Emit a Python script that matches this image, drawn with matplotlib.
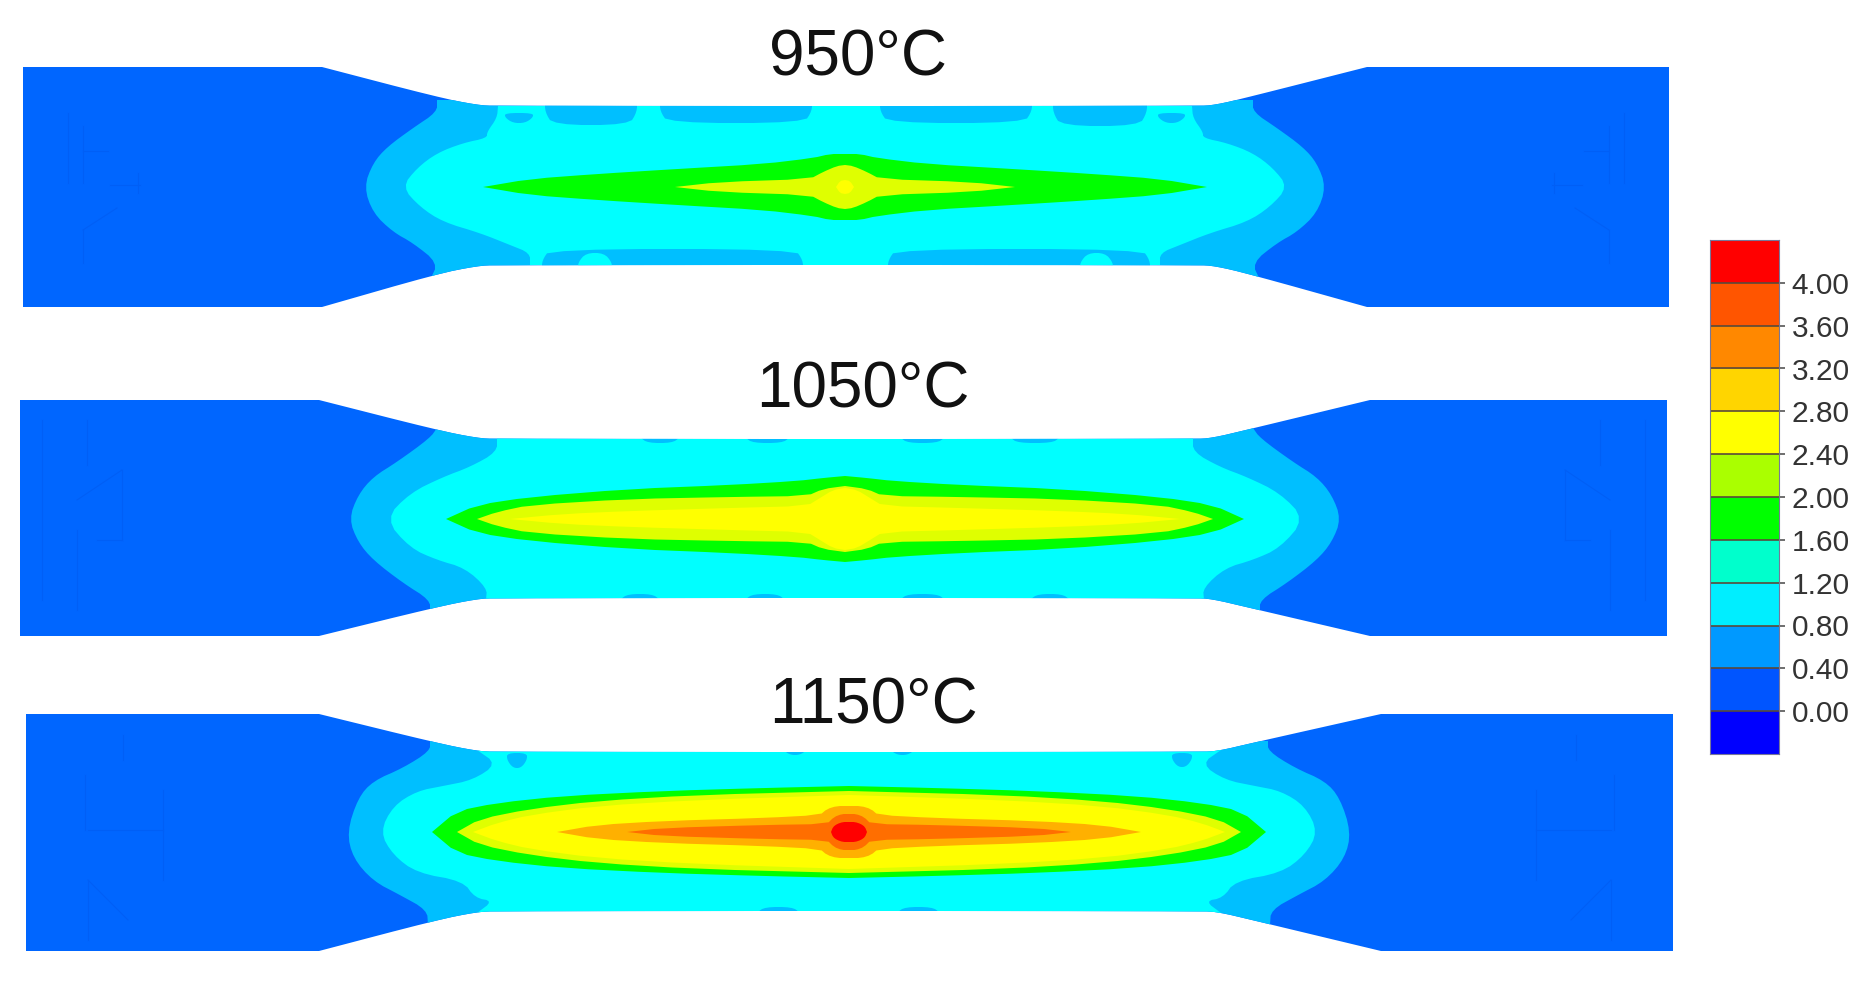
import numpy as np
import matplotlib
matplotlib.use("Agg")
import matplotlib.pyplot as plt
from matplotlib.patches import Polygon

plt.rcParams['font.family'] = ['Liberation Sans', 'DejaVu Sans']

# ---------- legend ----------
LEVELS = [0.0, 0.4, 0.8, 1.2, 1.6, 2.0, 2.4, 2.8, 3.2, 3.6, 4.0]
LEVEL_LABELS = ['0.00', '0.40', '0.80', '1.20', '1.60', '2.00', '2.40', '2.80', '3.20', '3.60', '4.00']
LEGEND_COLORS = ['#0000FF', '#0055FF', '#0099FF', '#00EEFF', '#00FFCC', '#00FF00',
                 '#AAFF00', '#FFFF00', '#FFD500', '#FF8800', '#FF5500', '#FF0000']

# ---------- field colours seen on the specimens ----------
C_GRIP, C_BAND, C_CYAN = '#0066FF', '#00BFFF', '#00FFFF'
C_GREEN, C_YG, C_YEL, C_GOLD, C_ORG, C_RED = '#00FF00', '#DFFF00', '#FFFF00', '#FFB000', '#FF6E00', '#FF0000'

# ---------- specimen 950 ----------
S950_TITLE = '950°C'
S950_FRAME = dict(L=23, R=1669, T=67, B=307, GL=322, GR=1367, SL=497, SR=1197, GT=106, GB=265, CX=845, MY=187)
S950_BAND_DX = [408, 408, 432, 458, 472, 481, 472, 452, 432, 407, 415]
S950_BAND_DY = [-87, -75, -59, -40, -24, 0, 26, 45, 56, 76, 93]
S950_CYAN_DX = [347, 348, 358, 358, 382, 408, 428, 443, 425, 402, 365, 335, 315, 315]
S950_CYAN_DY = [-81, -69, -55, -49, -44, -34, -19, 0, 20, 35, 46, 58, 66, 78]
S950_TOP_PATCH = [(505, 533, 7, 16), (545, 637, 0, 18), (660, 812, 0, 16), (880, 1032, 0, 16), (1053, 1147, 0, 19), (1158, 1185, 7, 16)]
S950_BOT_PATCH = [(542, 803, 0, 15), (888, 1150, 0, 15)]
S950_BOT_GAPS = [(578, 612, 0, 11), (1080, 1113, 0, 11)]
S950_PROFILES = [
    (C_GREEN, [362, 315, 248, 168, 82, 32, 15, 0], [0, 8, 13, 18, 23, 29, 33, 33]),
    (C_YG, [170, 125, 35, 22, 8, 0], [0, 5, 8, 15, 21, 22]),
    (C_YEL, [9, 5, 0], [0, 6, 7]),
]
S950_LINES = [((83, 126), (83, 183)), ((83, 151), (108, 151)), ((110, 185), (140, 185)), ((138, 173), (138, 193)),
              ((83, 230), (83, 263)), ((83, 230), (117, 208)), ((68, 113), (68, 183))]

# ---------- specimen 1050 ----------
S1050_TITLE = '1050°C'
S1050_FRAME = dict(L=20, R=1667, T=400, B=636, GL=319, GR=1370, SL=497, SR=1194, GT=439, GB=598, CX=845, MY=519)
S1050_BAND_DX = [408, 415, 448, 472, 487, 496, 487, 472, 442, 415, 415]
S1050_BAND_DY = [-91, -81, -57, -42, -24, 0, 23, 41, 64, 81, 93]
S1050_CYAN_DX = [348, 348, 375, 402, 435, 460, 435, 408, 380, 358, 359]
S1050_CYAN_DY = [-82, -67, -52, -42, -26, 0, 29, 41, 49, 69, 81]
S1050_TOP_PATCH = [(640, 680, 0, 3), (745, 790, 0, 3), (900, 945, 0, 3), (1010, 1060, 0, 3)]
S1050_BOT_PATCH = [(620, 660, 0, 3), (745, 785, 0, 3), (900, 945, 0, 3), (1030, 1070, 0, 3)]
S1050_BOT_GAPS = []
S1050_PROFILES = [
    (C_GREEN, [399, 368, 315, 215, 115, 48, 22, 0], [0, 14, 22, 30, 34, 38, 41, 43]),
    (C_YG, [368, 348, 315, 215, 115, 38, 22, 0], [0, 7, 14, 20, 22, 23, 30, 33]),
    (C_YEL, [335, 282, 215, 115, 38, 25, 12, 0], [0, 5, 8, 11, 13, 21, 29, 31]),
]
S1050_LINES = [((125, 470), (125, 540)), ((80, 500), (125, 470)), ((80, 530), (80, 610)), ((45, 420), (45, 600)),
               ((90, 420), (90, 465)), ((100, 540), (125, 540))]

# ---------- specimen 1150 ----------
S1150_TITLE = '1150°C'
S1150_FRAME = dict(L=26, R=1673, T=714, B=951, GL=319, GR=1381, SL=497, SR=1200, GT=752, GB=911, CX=849, MY=832)
S1150_BAND_DX = [419, 419, 446, 476, 491, 502, 496, 476, 449, 422, 421]
S1150_BAND_DY = [-91, -81, -64, -51, -34, 0, 26, 49, 63, 78, 93]
S1150_CYAN_DX = [372, 352, 376, 406, 432, 456, 469, 456, 432, 386, 374, 356, 372]
S1150_CYAN_DY = [-82, -68, -52, -46, -41, -26, 0, 23, 41, 49, 66, 69, 81]
S1150_TOP_PATCH = [(507, 527, 1, 15), (1172, 1192, 1, 14), (783, 807, 0, 2), (890, 915, 0, 2)]
S1150_BOT_PATCH = [(757, 800, 0, 3), (897, 940, 0, 3)]
S1150_BOT_GAPS = []
S1150_PROFILES = [
    (C_GREEN, [417, 392, 352, 286, 186, 86, 0], [0, 21, 29, 36, 41, 44, 46]),
    (C_YG, [392, 369, 319, 252, 152, 0], [0, 13, 23, 31, 37, 41]),
    (C_YEL, [376, 352, 319, 252, 152, 0], [0, 9, 17, 26, 32, 37]),
    (C_GOLD, [292, 252, 186, 86, 29, 22, 12, 0], [0, 7, 11, 14, 17, 23, 26, 26]),
    (C_ORG, [222, 186, 86, 22, 15, 7, 0], [0, 4, 7, 8, 15, 18, 18]),
    (C_RED, [18, 16, 12, 6, 0], [0, 5, 8, 10, 10]),
]
S1150_LINES = [((82, 775), (82, 830)), ((85, 830), (160, 830)), ((160, 790), (160, 880)), ((85, 880), (85, 940)),
               ((120, 735), (120, 760)), ((85, 880), (125, 920))]


def chaikin(pts, n=2, closed=False):
    p = np.asarray(pts, float)
    for _ in range(n):
        if closed:
            a, b = p, np.roll(p, -1, axis=0)
            p = np.column_stack([0.75 * a + 0.25 * b, 0.25 * a + 0.75 * b]).reshape(-1, 2)
        else:
            a, b = p[:-1], p[1:]
            mid = np.column_stack([0.75 * a + 0.25 * b, 0.25 * a + 0.75 * b]).reshape(-1, 2)
            p = np.vstack([p[0], mid, p[-1]])
    return p


def draw_specimen(ax, F, band_dx, band_dy, cyan_dx, cyan_dy, top_p, bot_p, gaps, profiles, lines):
    cx, my = F['CX'], F['MY']
    # the shoulder bends softly into the gauge; short extra segments keep the gauge edge straight
    top = chaikin([(F['GL'], F['T']), (F['SL'] - 60, F['GT'] - 9), (F['SL'] - 20, F['GT'] - 1), (F['SL'], F['GT']),
                   (F['SR'], F['GT']), (F['SR'] + 18, F['GT'] - 1), (F['SR'] + 52, F['GT'] - 9), (F['GR'], F['T'])], 2)
    bot = chaikin([(F['GR'], F['B']), (F['SR'] + 52, F['GB'] + 9), (F['SR'] + 18, F['GB'] + 1), (F['SR'], F['GB']),
                   (F['SL'], F['GB']), (F['SL'] - 20, F['GB'] + 1), (F['SL'] - 60, F['GB'] + 9), (F['GL'], F['B'])], 2)
    outline = np.vstack([[(F['L'], F['T'])], top, [(F['R'], F['T']), (F['R'], F['B'])], bot, [(F['L'], F['B'])]])
    body = Polygon(outline, closed=True, fc=C_GRIP, ec='none', zorder=1)
    ax.add_patch(body)

    def clip(p):
        ax.add_patch(p)
        p.set_clip_path(body)

    z = 2
    for dx, dy, col in [(band_dx, band_dy, C_BAND), (cyan_dx, cyan_dy, C_CYAN)]:
        edge = chaikin(np.column_stack([dx, dy]), 2)
        left = np.column_stack([cx - edge[:, 0], my + edge[:, 1]])
        right = np.column_stack([cx + edge[:, 0], my + edge[:, 1]])[::-1]
        clip(Polygon(np.vstack([left, right]), closed=True, fc=col, ec='none', zorder=z))
        z += 1
    for patches, base, sign, col in [(top_p, F['GT'], 1, C_BAND), (bot_p, F['GB'], -1, C_BAND), (gaps, F['GB'], -1, C_CYAN)]:
        for x0, x1, d0, d1 in patches:
            r = min(8, (x1 - x0) * 0.3)
            # patches that touch the edge start a little outside it and get clipped there
            start = -6 if d0 == 0 else d0
            pts = [(x0, base + sign * start), (x0, base + sign * (start + d1) / 2), (x0 + r, base + sign * (d1 + 1)),
                   (x1 - r, base + sign * (d1 + 1)), (x1, base + sign * (start + d1) / 2), (x1, base + sign * start)]
            clip(Polygon(chaikin(pts, 2, closed=True), closed=True, fc=col, ec='none', zorder=z))
        z += 1
    for col, dx, h in profiles:
        dx, h = np.array(dx, float), np.array(h, float)
        q = np.vstack([
            np.column_stack([cx - dx, my - h]),
            np.column_stack([cx + dx[::-1], my - h[::-1]]),
            np.column_stack([cx + dx, my + h]),
            np.column_stack([cx - dx[::-1], my + h[::-1]]),
        ])
        clip(Polygon(chaikin(q, 1, closed=True), closed=True, fc=col, ec='none', zorder=z))
        z += 1
    # faint mesh traces inside the grips, both ends
    for (x0, y0), (x1, y1) in lines:
        ax.plot([F['L'] - 23 + x0, F['L'] - 23 + x1], [y0, y1], color='#005FF6', lw=0.8, zorder=z)
        ax.plot([F['R'] + 23 - x0, F['R'] + 23 - x1], [y0, y1], color='#005FF6', lw=0.8, zorder=z)


fig = plt.figure(figsize=(18.72, 9.82), dpi=100)
ax = fig.add_axes([0, 0, 1, 1])
ax.set_xlim(0, 1872)
ax.set_ylim(982, 0)
ax.axis('off')

draw_specimen(ax, S950_FRAME, S950_BAND_DX, S950_BAND_DY, S950_CYAN_DX, S950_CYAN_DY,
              S950_TOP_PATCH, S950_BOT_PATCH, S950_BOT_GAPS, S950_PROFILES, S950_LINES)
draw_specimen(ax, S1050_FRAME, S1050_BAND_DX, S1050_BAND_DY, S1050_CYAN_DX, S1050_CYAN_DY,
              S1050_TOP_PATCH, S1050_BOT_PATCH, S1050_BOT_GAPS, S1050_PROFILES, S1050_LINES)
draw_specimen(ax, S1150_FRAME, S1150_BAND_DX, S1150_BAND_DY, S1150_CYAN_DX, S1150_CYAN_DY,
              S1150_TOP_PATCH, S1150_BOT_PATCH, S1150_BOT_GAPS, S1150_PROFILES, S1150_LINES)

for title, x, y in [(S950_TITLE, 858, 58), (S1050_TITLE, 863, 391), (S1150_TITLE, 874, 706)]:
    ax.text(x, y, title, ha='center', va='center', fontsize=46, color='#111111')

# legend bar
cax = fig.add_axes([1710 / 1872, 1 - 754 / 982, 69 / 1872, (754 - 240) / 982])
edges = [LEVELS[0] - 0.4] + LEVELS + [LEVELS[-1] + 0.4]
cax.bar([0] * len(LEGEND_COLORS), np.diff(edges), bottom=edges[:-1], width=1, color=LEGEND_COLORS, align='edge')
cax.set_xlim(0, 1)
cax.set_ylim(edges[0], edges[-1])
cax.hlines(LEVELS, 0, 1, color='#5a4a3a', lw=1.2)
cax.set_xticks([])
cax.set_yticks(LEVELS)
cax.set_yticklabels(LEVEL_LABELS, fontsize=21.5, color='#333333')
cax.yaxis.tick_right()
cax.tick_params(axis='y', length=4, width=1.2, color='#555555', pad=5)
for s in cax.spines.values():
    s.set_linewidth(0.8)
    s.set_color('#777799')

fig.savefig('out.png', dpi=100)
